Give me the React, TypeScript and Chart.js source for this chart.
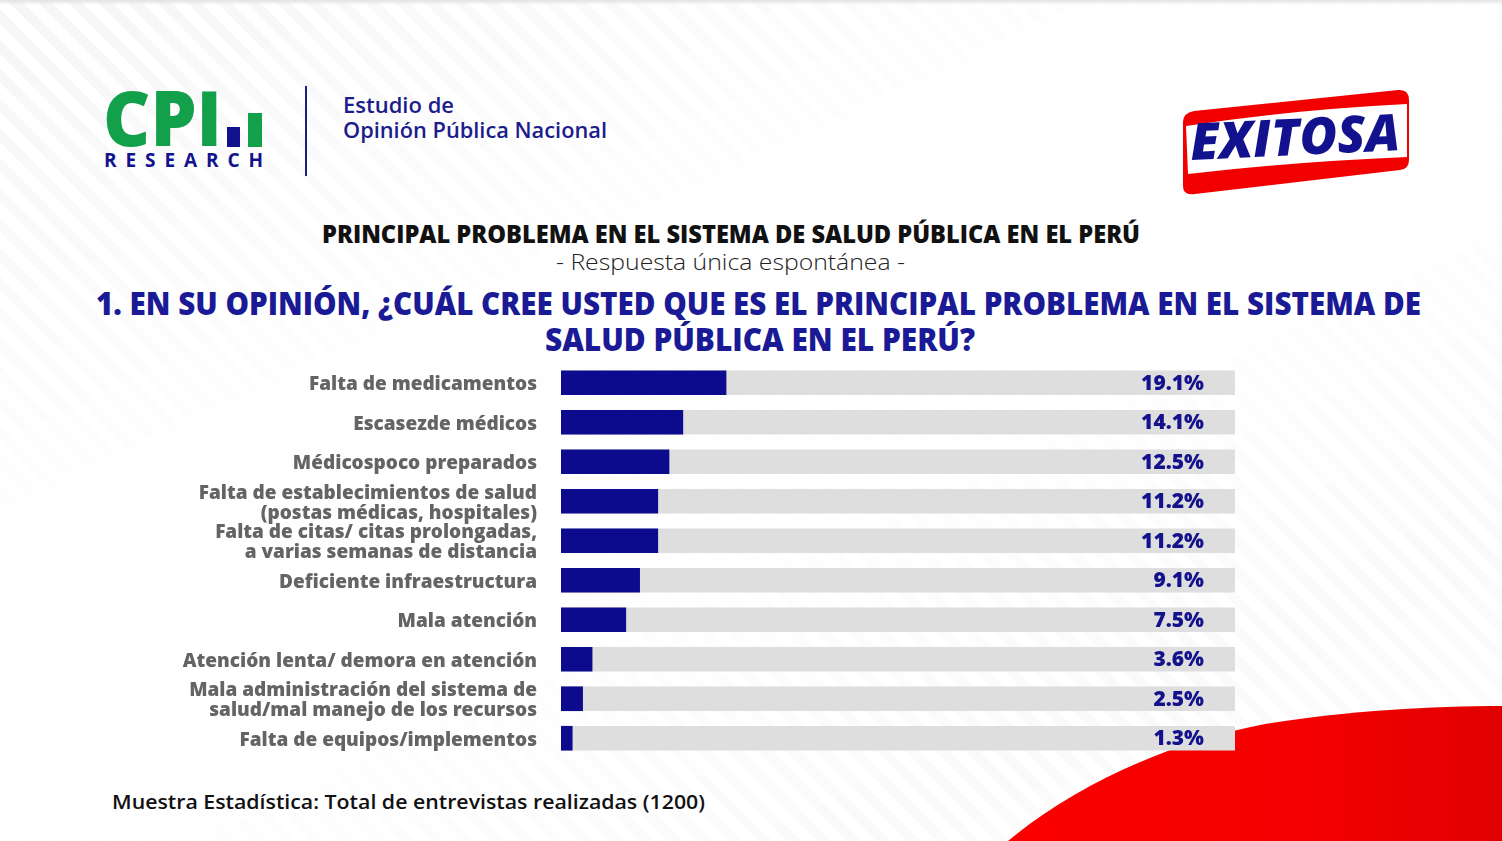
import React, { useEffect, useRef } from "react";
import { Chart, registerables } from "chart.js";

Chart.register(...registerables);

// ---------- DATA ----------
const CATEGORIES: (string | string[])[] = [
  "Falta de medicamentos",
  "Escasezde médicos",
  "Médicospoco preparados",
  ["Falta de establecimientos de salud", "(postas médicas, hospitales)"],
  ["Falta de citas/ citas prolongadas,", "a varias semanas de distancia"],
  "Deficiente infraestructura",
  "Mala atención",
  "Atención lenta/ demora en atención",
  ["Mala administración del sistema de", "salud/mal manejo de los recursos"],
  "Falta de equipos/implementos",
];
const VALUES = [19.1, 14.1, 12.5, 11.2, 11.2, 9.1, 7.5, 3.6, 2.5, 1.3];
const X_MAX = 78;
const TRACK = CATEGORIES.map(() => X_MAX);
const VALUE_LABELS = VALUES.map((v) => v.toFixed(1) + "%");

const TITLE = "PRINCIPAL PROBLEMA EN EL SISTEMA DE SALUD PÚBLICA EN EL PERÚ";
const SUBTITLE = "- Respuesta única espontánea -";
const QUESTION_1 = "1. EN SU OPINIÓN, ¿CUÁL CREE USTED QUE ES EL PRINCIPAL PROBLEMA EN EL SISTEMA DE";
const QUESTION_2 = "SALUD PÚBLICA EN EL PERÚ?";
const FOOTER = "Muestra Estadística: Total de entrevistas realizadas (1200)";

// ---------- STYLE ----------
const NAVY = "#0c0b8d";
const TEXT_NAVY = "#1a1a96";
const FONT = "'Open Sans', 'Noto Sans', sans-serif";

const valueLabelPlugin = {
  id: "valueLabels",
  afterDatasetsDraw(chart: any) {
    const { ctx } = chart;
    const meta = chart.getDatasetMeta(0);
    const x = chart.scales.x.right - 31;
    ctx.save();
    ctx.font = `800 21px ${FONT}`;
    ctx.fillStyle = "#13128c";
    ctx.textAlign = "right";
    ctx.textBaseline = "middle";
    meta.data.forEach((bar: any, i: number) => {
      ctx.fillText(VALUE_LABELS[i], x, bar.y + 1);
    });
    ctx.restore();
  },
};

function BarChart() {
  const ref = useRef<HTMLCanvasElement | null>(null);
  useEffect(() => {
    if (!ref.current) return;
    const chart = new Chart(ref.current, {
      type: "bar",
      data: {
        labels: CATEGORIES as any,
        datasets: [
          {
            data: VALUES,
            backgroundColor: NAVY,
            barThickness: 24,
            grouped: false,
            order: 0,
          } as any,
          {
            data: TRACK,
            backgroundColor: "#dedede",
            barThickness: 24,
            grouped: false,
            order: 1,
          } as any,
        ],
      },
      options: {
        indexAxis: "y",
        animation: false,
        responsive: false,
        layout: { padding: { left: 0, right: 25, top: 8, bottom: 7 } },
        plugins: { legend: { display: false }, tooltip: { enabled: false } },
        scales: {
          x: { display: false, min: 0, max: X_MAX },
          y: {
            grid: { display: false, drawTicks: false },
            border: { display: false },
            ticks: {
              autoSkip: false,
              padding: 24,
              labelOffset: 2,
              color: "#646464",
              font: { family: FONT, weight: "800", size: 19, lineHeight: 1.06 },
            },
            afterFit: (s: any) => {
              s.width = 381;
              s.paddingTop = 0;
              s.paddingBottom = 0;
            },
          },
        },
      } as any,
      plugins: [valueLabelPlugin],
    });
    return () => chart.destroy();
  }, []);
  return (
    <canvas
      ref={ref}
      width={1080}
      height={410}
      style={{ position: "absolute", left: 180, top: 355, width: 1080, height: 410 }}
    />
  );
}

export default function App() {
  return (
    <div
      style={{
        position: "fixed",
        left: 0,
        top: 0,
        width: 1502,
        height: 841,
        overflow: "hidden",
        background: "#ffffff",
        fontFamily: FONT,
      }}
    >
      {/* faint diagonal stripes */}
      <div
        style={{
          position: "absolute",
          inset: 0,
          background:
            "repeating-linear-gradient(45deg, #ffffff 0px, #ffffff 11px, #f5f5f5 11px, #f5f5f5 21px)",
          WebkitMaskImage:
            "linear-gradient(155deg, rgba(0,0,0,0.9) 0%, rgba(0,0,0,0.1) 35%, rgba(0,0,0,0.05) 55%, rgba(0,0,0,0.5) 80%, rgba(0,0,0,0.1) 100%)",
          maskImage:
            "linear-gradient(155deg, rgba(0,0,0,0.9) 0%, rgba(0,0,0,0.1) 35%, rgba(0,0,0,0.05) 55%, rgba(0,0,0,0.5) 80%, rgba(0,0,0,0.1) 100%)",
        }}
      />
      <div
        style={{
          position: "absolute",
          left: 0,
          top: 0,
          width: 1502,
          height: 5,
          background: "linear-gradient(#e2e2e2, rgba(255,255,255,0))",
        }}
      />
      <svg
        width={1502}
        height={841}
        style={{ position: "absolute", left: 0, top: 0 }}
      >
        <defs>
          <linearGradient id="swoosh" x1="0" y1="0" x2="1" y2="0">
            <stop offset="0" stopColor="#fb0000" />
            <stop offset="0.6" stopColor="#f40000" />
            <stop offset="1" stopColor="#e00000" />
          </linearGradient>
        </defs>
        {/* red swoosh bottom right */}
        <path
          d="M1008,841 C1075,785 1170,742 1265,724 C1345,711 1430,706 1502,706 L1502,841 Z"
          fill="url(#swoosh)"
        />

        {/* CPI logo */}
        <text
          x={103}
          y={146}
          textLength={119}
          lengthAdjust="spacingAndGlyphs"
          fill="#12a04a"
          style={{ font: `800 76px ${FONT}` }}
        >
          CPI
        </text>
        <rect x={227} y={127} width={13} height={20} fill="#12128f" />
        <rect x={248} y={113} width={14} height={34} fill="#12a04a" />
        <text
          x={104}
          y={167}
          textLength={159}
          lengthAdjust="spacing"
          fill="#12128f"
          style={{ font: `700 19px ${FONT}` }}
        >
          RESEARCH
        </text>
        <rect x={305} y={86} width={2} height={90} fill="#1d1d80" />
        <text
          x={343}
          y={113}
          textLength={111}
          lengthAdjust="spacingAndGlyphs"
          fill="#1c1c8c"
          style={{ font: `600 21px ${FONT}` }}
        >
          Estudio de
        </text>
        <text
          x={343}
          y={138}
          textLength={264}
          lengthAdjust="spacingAndGlyphs"
          fill="#1c1c8c"
          style={{ font: `600 21px ${FONT}` }}
        >
          Opinión Pública Nacional
        </text>

        {/* EXITOSA logo */}
        <path
          d="M1183,122 Q1183,113 1194,111 L1398,90 Q1409,89 1409,100 L1409,160 Q1409,169 1400,170 L1195,194 Q1183,196 1183,186 Z"
          fill="#f20000"
        />
        <path
          d="M1186,126 Q1290,110 1407,104 L1407,157 Q1290,162 1188,174 Z"
          fill="#ffffff"
        />
        <text
          x={1191}
          y={160}
          textLength={210}
          lengthAdjust="spacingAndGlyphs"
          fill="#12128f"
          transform="rotate(-2.7 1191 160)"
          style={{ font: `italic 900 51px ${FONT}` }}
        >
          EXITOSA
        </text>

        {/* titles */}
        <text
          x={322}
          y={243}
          textLength={818}
          lengthAdjust="spacingAndGlyphs"
          fill="#111111"
          style={{ font: `800 24px ${FONT}` }}
        >
          {TITLE}
        </text>
        <text
          x={556}
          y={270}
          textLength={349}
          lengthAdjust="spacingAndGlyphs"
          fill="#222222"
          style={{ font: `300 22px ${FONT}` }}
        >
          {SUBTITLE}
        </text>
        <text
          x={96}
          y={315}
          textLength={1325}
          lengthAdjust="spacingAndGlyphs"
          fill={TEXT_NAVY}
          style={{ font: `800 32px ${FONT}` }}
        >
          {QUESTION_1}
        </text>
        <text
          x={545}
          y={351}
          textLength={430}
          lengthAdjust="spacingAndGlyphs"
          fill={TEXT_NAVY}
          style={{ font: `800 32px ${FONT}` }}
        >
          {QUESTION_2}
        </text>

        {/* footer */}
        <text
          x={112}
          y={809}
          textLength={593}
          lengthAdjust="spacingAndGlyphs"
          fill="#111111"
          style={{ font: `600 20px ${FONT}` }}
        >
          {FOOTER}
        </text>
      </svg>
      <BarChart />
    </div>
  );
}
